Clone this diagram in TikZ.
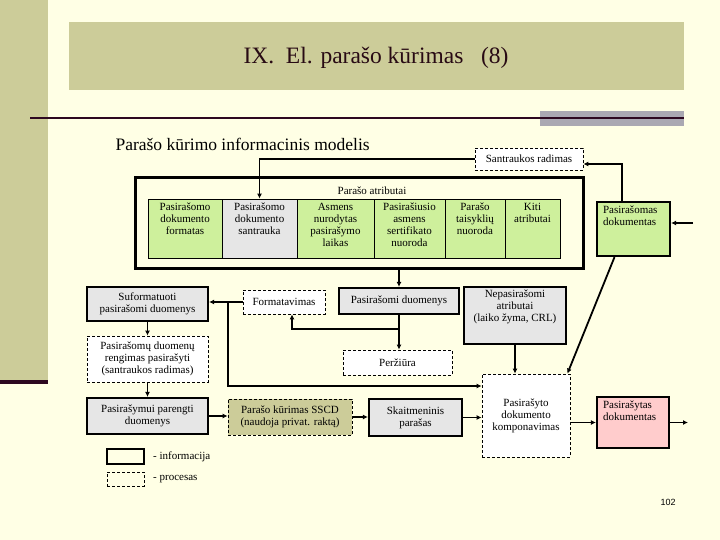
\documentclass[tikz,border=0pt]{standalone}
\usepackage{fontspec}
\setmainfont{Liberation Serif}
\newfontfamily\numfont{Liberation Sans}
\usepackage{tikz}
\usetikzlibrary{arrows.meta}

\definecolor{bgcream}{RGB}{255,255,229}
\definecolor{bandolive}{RGB}{204,204,153}
\definecolor{rulecol}{RGB}{45,8,32}
\definecolor{barcol}{RGB}{170,168,178}
\definecolor{cellgreen}{RGB}{206,240,156}
\definecolor{boxgray}{RGB}{230,230,230}
\definecolor{pinkfill}{RGB}{255,204,204}
\definecolor{titlecol}{RGB}{40,10,20}

\newcommand{\boxfont}{\fontsize{11}{12}\selectfont}

\begin{document}
\begin{tikzpicture}[x=1pt,y=-1pt,
  info/.style={draw,line width=2.2pt,fill=boxgray,inner sep=1pt,align=center,font=\boxfont},
  proc/.style={draw,line width=0.8pt,dash pattern=on 3pt off 2pt,fill=white,inner sep=1pt,align=center,font=\boxfont},
  cell/.style={draw,line width=0.8pt,inner sep=0pt},
  txt/.style={inner sep=0pt,align=center,font=\boxfont},
  con/.style={line width=1.8pt,-{Latex[length=5pt,width=5pt]}}]
  % slide backdrop
  \fill[bgcream] (0,0) rectangle (720,540);
  \useasboundingbox (0,0) rectangle (720,540);
  \fill[bandolive] (0,0) rectangle (48,382);
  \draw[rulecol,line width=3.5pt] (0,382) -- (48,382);
  \fill[bandolive] (69,22) rectangle (684,90);
  \fill[barcol] (540,111) rectangle (684,126);
  \draw[rulecol,line width=2pt] (30,118) -- (684,118);
  \node[font=\fontsize{23.5}{28}\selectfont,text=titlecol] (title) at (376,58) {IX.~~El. parašo kūrimas~~~(8)};
  \node[anchor=west,font=\fontsize{17.5}{21}\selectfont] (subtitle) at (112,144) {Parašo kūrimo informacinis modelis};

  % signature attributes
  \node[draw,line width=3pt,minimum width=448pt,minimum height=90pt] (attr) at (359,223) {};
  \node[txt] (attrt) at (372,191) {Parašo atributai};
  \foreach \n/\xa/\xb/\col/\txt in {
      1/148/222/cellgreen/{Pasirašomo\\dokumento\\formatas},
      2/222/297/boxgray/{Pasirašomo\\dokumento\\santrauka},
      3/297/374/cellgreen/{Asmens\\nurodytas\\pasirašymo\\laikas},
      4/374/445/cellgreen/{Pasirašiusio\\asmens\\sertifikato\\nuoroda},
      5/445/505/cellgreen/{Parašo\\taisyklių\\nuoroda},
      6/505/560/cellgreen/{Kiti\\atributai}}{
    \node[cell,fill=\col,minimum width={(\xb-\xa)*1pt},minimum height=59pt] (c\n) at ({(\xa+\xb)/2},228.5) {};
    \node[txt,anchor=north] (t\n) at ([yshift=-4pt]c\n.north) {\txt};
  }

  \node[proc,minimum width=108pt,minimum height=22pt] (sant) at (529,159) {Santraukos radimas};
  \node[info,fill=cellgreen,minimum width=73pt,minimum height=54pt] (pdok) at (633.5,229) {};
  \node[txt,align=left,anchor=north west] (pdokt) at ([xshift=7pt,yshift=-5pt]pdok.north west) {Pasirašomas\\dokumentas};

  % data and processes
  \node[info,minimum width=121pt,minimum height=34pt] (sufd) at (147.5,304) {Suformatuoti\\pasirašomi duomenys};
  \node[proc,minimum width=82pt,minimum height=24pt] (form) at (284,302) {Formatavimas};
  \node[info,minimum width=120pt,minimum height=26pt] (pd) at (399,301) {Pasirašomi duomenys};
  \node[info,minimum width=102pt,minimum height=57pt] (nep) at (515,315.5) {};
  \node[txt,anchor=north] (nept) at ([yshift=-4pt]nep.north) {Nepasirašomi\\atributai\\(laiko žyma, CRL)};
  \node[proc,minimum width=121pt,minimum height=46pt] (reng) at (147.5,359) {Pasirašomų duomenų\\rengimas pasirašyti\\(santraukos radimas)};
  \node[proc,minimum width=109pt,minimum height=25pt] (perz) at (397.5,362.5) {Peržiūra};
  \node[info,minimum width=121pt,minimum height=36pt] (pareng) at (147.5,416) {Pasirašymui parengti\\duomenys};
  \node[proc,fill=bandolive,minimum width=124pt,minimum height=36pt] (sscd) at (290,417) {Parašo kūrimas SSCD\\(naudoja privat. raktą)};
  \node[info,minimum width=93pt,minimum height=37pt] (skait) at (415.5,417.5) {Skaitmeninis\\parašas};
  \node[proc,minimum width=88pt,minimum height=83pt] (komp) at (526,415.5) {Pasirašyto\\dokumento\\komponavimas};
  \node[info,fill=pinkfill,minimum width=72pt,minimum height=51pt] (psd) at (633,422.5) {};
  \node[txt,align=left,anchor=north west] (psdt) at ([xshift=7pt,yshift=-5pt]psd.north west) {Pasirašytas\\dokumentas};

  % legend
  \node[info,fill=none,minimum width=37pt,minimum height=15pt] (leginfo) at (125.5,456.5) {};
  \node[txt,anchor=west] (leginfot) at (153,457) {- informacija};
  \node[proc,fill=none,minimum width=37pt,minimum height=14pt] (legproc) at (125.5,479) {};
  \node[txt,anchor=west] (legproct) at (153,479) {- procesas};
  \node[font=\numfont\fontsize{9}{11}\selectfont] (pnum) at (668,502) {102};

  % connectors
  \draw[con] (sant.west) -| (c2.north);
  \draw[con] ([xshift=-11.5pt]pdok.north) |- ([yshift=-5pt]sant.east);
  \coordinate (docin) at (693,223);
  \draw[con] (docin) -- (docin -| pdok.east);
  \draw[con] (attr.south -| pd.north) -- (pd.north);
  \draw[con] (form.west) -- (form.west -| sufd.east);
  \coordinate (fj) at (228,302);
  \draw[con] (fj) |- ([yshift=29.5pt]komp.west);
  \draw[con] (pd.south) -- (pd.south |- perz.north);
  \coordinate (pj) at (399,329);
  \draw[con] (pj) -| ([xshift=8pt]form.south);
  \draw[con] (sufd.south) -- (reng.north);
  \draw[con] (reng.south) -- (pareng.north);
  \draw[con] (pareng.east) -- (pareng.east -| sscd.west);
  \draw[con] (sscd.east) -- (sscd.east -| skait.west);
  \draw[con] (skait.east) -- (skait.east -| komp.west);
  \draw[con] (psd.west -| komp.east) -- (psd.west);
  \coordinate (docout) at (688,422.5);
  \draw[con] (psd.east) -- (docout);
  \draw[con] (nep.south) -- (nep.south |- komp.north);
  \draw[con] ([xshift=-19pt]pdok.south) -- ([xshift=-3pt]komp.north east);
\end{tikzpicture}
\end{document}
